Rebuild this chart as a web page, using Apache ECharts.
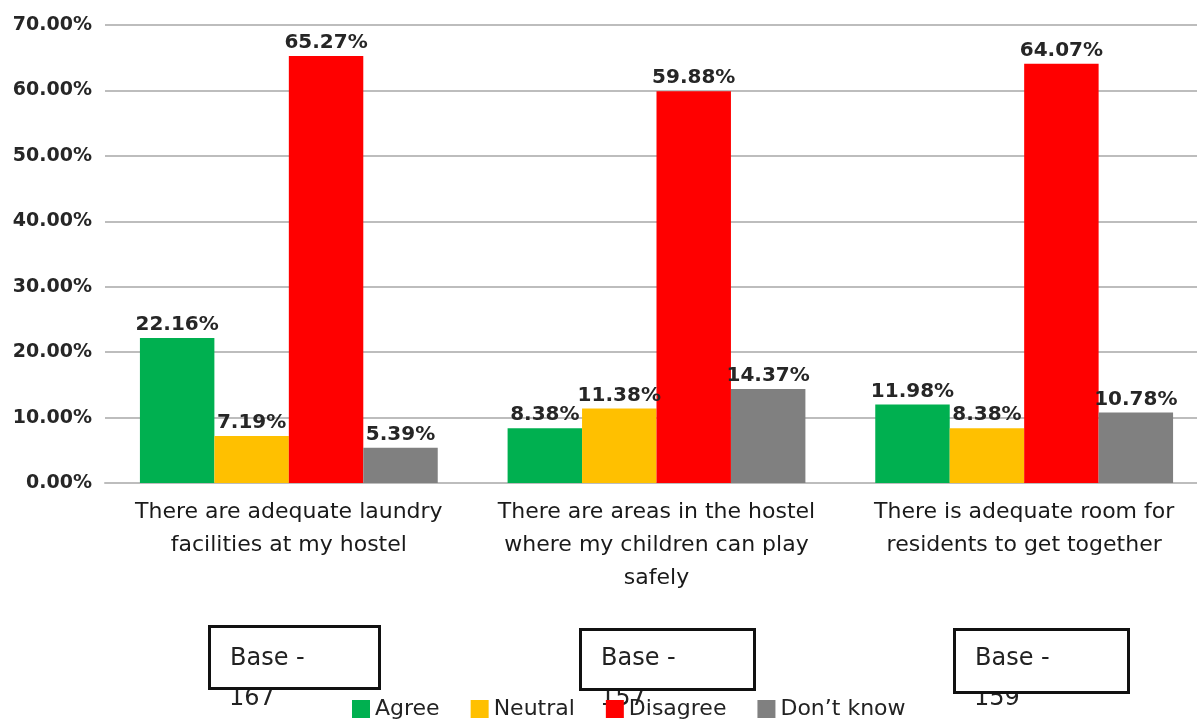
<!DOCTYPE html>
<html>
<head>
<meta charset="utf-8">
<script src="https://cdn.jsdelivr.net/npm/echarts@6/dist/echarts.min.js"></script>
<style>
html,body{margin:0;padding:0;background:#fff;overflow:hidden;}
#chart{width:1212px;height:720px;}
</style>
</head>
<body>
<div id="chart"></div>
<script>
const categories = [
  "There are adequate laundry\nfacilities at my hostel",
  "There are areas in the hostel\nwhere my children can play\nsafely",
  "There is adequate room for\nresidents to get together"
];
const agree = [22.16, 8.38, 11.98];
const neutral = [7.19, 11.38, 8.38];
const disagree = [65.27, 59.88, 64.07];
const dontKnow = [5.39, 14.37, 10.78];
const baseCounts = [167, 157, 159];
const seriesNames = ["Agree", "Neutral", "Disagree", "Don\u2019t know"];
const seriesColors = ["#00B050", "#FFC000", "#FF0000", "#808080"];

const FONT = "DejaVu Sans";
const chart = echarts.init(document.getElementById('chart'), null, {renderer: 'canvas'});

function mkSeries(name, data, color) {
  return {
    name: name,
    type: 'bar',
    data: data,
    barGap: '0%',
    barCategoryGap: '19%',
    itemStyle: {color: color},
    label: {
      show: true,
      position: 'top',
      distance: 3,
      formatter: p => p.value.toFixed(2) + '%',
      fontFamily: FONT,
      fontWeight: 'bold',
      fontSize: 20,
      color: '#262626'
    }
  };
}

const boxes = [[208, 625, 170, 62], [579, 628, 174, 60], [953, 628, 174, 63]];
const graphics = [];
baseCounts.forEach((n, i) => {
  const b = boxes[i];
  graphics.push({
    type: 'text',
    left: b[0] + 21, top: 687,
    style: {text: String(n), font: '24px "' + FONT + '"', fill: '#222'},
    z: 9
  });
  graphics.push({
    type: 'rect',
    left: b[0], top: b[1],
    shape: {width: b[2], height: b[3]},
    style: {fill: '#fff', stroke: '#111', lineWidth: 3},
    z: 10
  });
  graphics.push({
    type: 'text',
    left: b[0] + 22, top: 647,
    style: {text: 'Base -', font: '24px "' + FONT + '"', fill: '#222'},
    z: 11
  });
});

chart.setOption({
  animation: false,
  backgroundColor: '#fff',
  grid: {left: 105, top: 25, width: 1103, height: 458, containLabel: false},
  legend: {
    data: seriesNames,
    left: 347, top: 693,
    itemWidth: 18, itemHeight: 18, itemGap: 31,
    icon: 'rect',
    textStyle: {fontFamily: FONT, fontSize: 22, color: '#222'},
    z: 20
  },
  xAxis: {
    type: 'category',
    data: categories,
    axisLine: {show: true, lineStyle: {color: '#bdbdbd', width: 2}},
    axisTick: {show: false},
    axisLabel: {
      interval: 0,
      margin: 13,
      fontFamily: FONT,
      fontSize: 22,
      lineHeight: 33,
      color: '#1a1a1a'
    }
  },
  yAxis: {
    type: 'value',
    min: 0, max: 70, interval: 10,
    axisLine: {show: false},
    axisTick: {show: false},
    splitLine: {lineStyle: {color: '#bdbdbd', width: 2}},
    axisLabel: {
      margin: 13,
      formatter: v => v.toFixed(2) + '%',
      fontFamily: FONT,
      fontWeight: 'bold',
      fontSize: 19,
      color: '#262626'
    }
  },
  series: [
    mkSeries(seriesNames[0], agree, seriesColors[0]),
    mkSeries(seriesNames[1], neutral, seriesColors[1]),
    mkSeries(seriesNames[2], disagree, seriesColors[2]),
    mkSeries(seriesNames[3], dontKnow, seriesColors[3])
  ],
  graphic: graphics
});
</script>
</body>
</html>
